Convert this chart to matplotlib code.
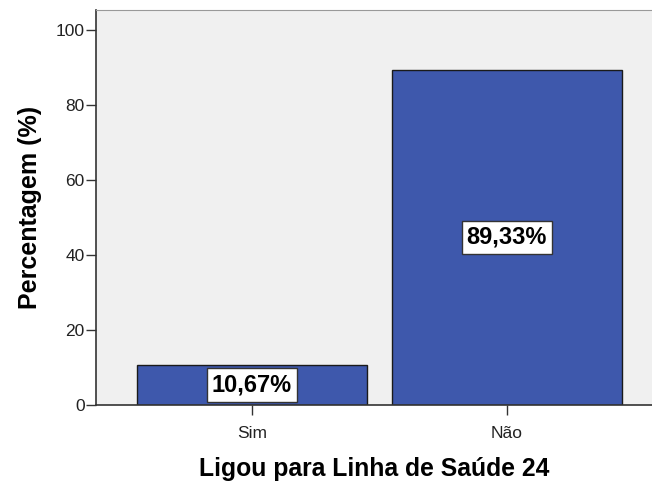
import matplotlib
matplotlib.use('agg')
import matplotlib.pyplot as plt
import numpy as np

plt.rcParams['font.family'] = ['Liberation Sans', 'DejaVu Sans']

categories = ['Sim', 'Não']
percentages = [10.67, 89.33]
value_labels = ['10,67%', '89,33%']

BAR_COLOR = '#3e58ac'
BG_COLOR = '#f0f0f0'

fig = plt.figure(figsize=(6.52, 4.82), dpi=100)
ax = fig.add_axes([0.147, 0.160, 0.853, 0.819])
ax.set_facecolor(BG_COLOR)

pos = np.arange(len(categories))
ax.bar(pos, percentages, 0.9, color=BAR_COLOR, edgecolor='#1a1a1a', linewidth=1.0, zorder=2)
for x, y, lab in zip(pos, percentages, value_labels):
    ax.text(x, y / 2, lab, ha='center', va='center', fontsize=17, fontweight='bold',
            zorder=3,
            bbox=dict(boxstyle='square,pad=0.22', facecolor='white', edgecolor='#333333', linewidth=1.0))

ax.set_xlim(-0.612, 1.569)
ax.set_ylim(0, 105.3)
ax.set_yticks([0, 20, 40, 60, 80, 100])
ax.set_xticks(pos, categories)
ax.tick_params(axis='both', labelsize=12.5, length=7, width=1, color='#333333', labelcolor='#222222', pad=1)
ax.tick_params(axis='x', pad=8)

ax.spines['right'].set_visible(False)
ax.spines['top'].set_color('#999999')
ax.spines['left'].set_color('#333333')
ax.spines['bottom'].set_color('#333333')
ax.spines['left'].set_linewidth(1.2)
ax.spines['bottom'].set_linewidth(1.2)

ax.set_ylabel('Percentagem (%)', fontsize=18, fontweight='bold', labelpad=10)
ax.set_xlabel('Ligou para Linha de Saúde 24', fontsize=17.8, fontweight='bold', labelpad=12)

fig.savefig('out.png', dpi=100)
